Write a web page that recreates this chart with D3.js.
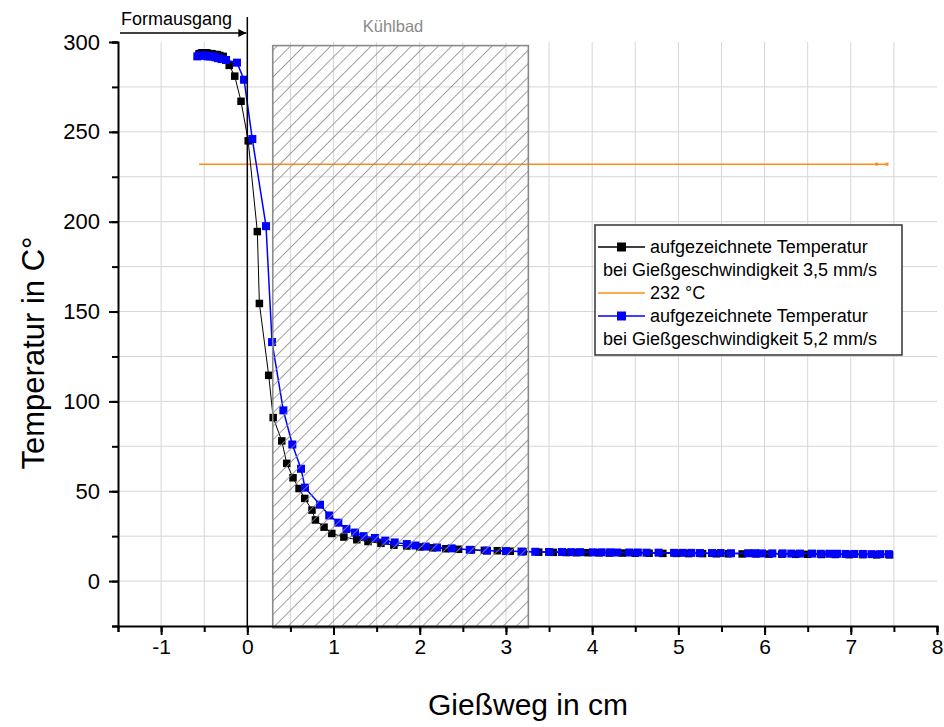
<!DOCTYPE html>
<html>
<head>
<meta charset="utf-8">
<script src="https://cdn.jsdelivr.net/npm/d3@7"></script>
<style>
  body { margin: 0; background: #fff; }
  svg { font-family: Arial, "Liberation Sans", sans-serif; }
</style>
</head>
<body>
<div id="chart"></div>
<script>
// Gießgeschwindigkeit 3,5 mm/s
const xBlack = [-0.56, -0.53, -0.50, -0.47, -0.44, -0.41, -0.38, -0.35, -0.32, -0.28, -0.21, -0.146, -0.073, 0.01,
  0.116, 0.14, 0.248, 0.30, 0.40, 0.457, 0.53, 0.60, 0.666, 0.75, 0.79, 0.89, 0.98, 1.12, 1.27, 1.4, 1.55,
  1.7, 1.85, 2.0, 2.15, 2.3, 2.45, 2.6, 2.75, 2.9, 3.05, 3.2, 3.38, 3.55, 3.7, 3.82, 3.95, 4.08, 4.2, 4.35,
  4.5, 4.66, 4.82, 4.98, 5.12, 5.28, 5.44, 5.58, 5.74, 5.9, 6.05, 6.2, 6.36, 6.5, 6.66, 6.82, 6.98, 7.14,
  7.3, 7.45];
const yBlack = [293.5, 294, 294, 294, 293.5, 293.5, 293, 293, 292.5, 292, 287, 281, 267, 245,
  194.5, 154.5, 114.5, 91, 78, 65.5, 57.5, 51.5, 46, 39.5, 34, 30, 26.5, 24.5, 23, 22, 21,
  20, 19.5, 19, 18.5, 18, 17.7, 17.4, 17.1, 16.9, 16.6, 16.4, 16.1, 16, 15.9, 15.8, 15.8, 15.7, 15.6, 15.6,
  15.5, 15.5, 15.4, 15.4, 15.3, 15.3, 15.2, 15.2, 15.1, 15.1, 15, 15, 14.9, 14.9, 14.8, 14.8, 14.7, 14.7,
  14.6, 14.6];

// Gießgeschwindigkeit 5,2 mm/s
const xBlue = [-0.58, -0.55, -0.52, -0.49, -0.46, -0.43, -0.40, -0.37, -0.34, -0.30, -0.247, -0.12, -0.038, 0.058,
  0.217, 0.287, 0.418, 0.522, 0.623, 0.669, 0.843, 0.95, 1.056, 1.15, 1.25, 1.35, 1.48, 1.6, 1.71, 1.85,
  1.95, 2.07, 2.2, 2.37, 2.58, 2.78, 3.0, 3.18, 3.34, 3.50, 3.65, 3.76, 3.86, 4.01, 4.11, 4.21, 4.29, 4.43,
  4.53, 4.63, 4.77, 4.95, 5.05, 5.15, 5.25, 5.39, 5.49, 5.61, 5.81, 5.89, 5.97, 6.09, 6.21, 6.31, 6.41,
  6.55, 6.65, 6.75, 6.84, 6.94, 7.04, 7.14, 7.24, 7.34, 7.44];
const yBlue = [292, 292.5, 292.5, 292.5, 292, 292, 292, 291.5, 291, 290.5, 290, 288.5, 279, 246,
  197.5, 133, 95, 76, 62.5, 52, 42.5, 36.5, 32.5, 29, 27, 25, 24, 22.5, 21.5, 20.6,
  19.8, 19.2, 18.7, 18.2, 17.4, 16.9, 16.7, 16.4, 16.3, 16.2, 16.2, 16.1, 16.1, 16, 16, 16, 15.9, 15.9,
  15.9, 15.8, 15.8, 15.7, 15.7, 15.7, 15.6, 15.6, 15.6, 15.5, 15.5, 15.5, 15.4, 15.4, 15.4, 15.3, 15.3,
  15.3, 15.2, 15.2, 15.2, 15.1, 15.1, 15.1, 15, 15, 15];

// 232 °C Linie
const xOrange = [-0.56, 7.3, 7.42];
const yOrange = [232, 232, 232];

const xTicks = [-1, 0, 1, 2, 3, 4, 5, 6, 7, 8];
const yTicks = [0, 50, 100, 150, 200, 250, 300];

const legendLabels = [
  "aufgezeichnete Temperatur", "bei Gießgeschwindigkeit 3,5 mm/s",
  "232 °C",
  "aufgezeichnete Temperatur", "bei Gießgeschwindigkeit 5,2 mm/s"
];

const width = 944, height = 727;
const plotLeft = 118, plotRight = 937, plotTop = 42, plotBottom = 626;

const svg = d3.select("#chart").append("svg")
  .attr("width", width)
  .attr("height", height);

const x = d3.scaleLinear().domain([-1.5, 8]).range([plotLeft, plotRight]);
const y = d3.scaleLinear().domain([-25, 300]).range([plotBottom, plotTop]);

// hatch pattern for Kühlbad
const defs = svg.append("defs");
defs.append("pattern")
  .attr("id", "hatch")
  .attr("patternUnits", "userSpaceOnUse")
  .attr("width", 9.5)
  .attr("height", 9.5)
  .attr("patternTransform", "rotate(45)")
  .append("line")
  .attr("x1", 0).attr("y1", 0).attr("x2", 0).attr("y2", 9.5)
  .attr("stroke", "#8a8a8a")
  .attr("stroke-width", 1.6);

defs.append("marker")
  .attr("id", "arrow")
  .attr("viewBox", "0 0 10 10")
  .attr("refX", 10).attr("refY", 5)
  .attr("markerWidth", 10).attr("markerHeight", 8)
  .attr("markerUnits", "userSpaceOnUse")
  .attr("orient", "auto")
  .append("path")
  .attr("d", "M0,0L10,5L0,10z")
  .attr("fill", "#000");

// grid
const grid = svg.append("g").attr("stroke", "#d6d6d6").attr("stroke-width", 1);
grid.selectAll("line.v")
  .data(d3.range(-1, 8, 0.5))
  .join("line")
  .attr("x1", d => x(d)).attr("x2", d => x(d))
  .attr("y1", y(300)).attr("y2", plotBottom);
grid.selectAll("line.h")
  .data(d3.range(0, 300, 25))
  .join("line")
  .attr("x1", plotLeft).attr("x2", plotRight)
  .attr("y1", d => y(d)).attr("y2", d => y(d));

// 232 °C line
const orangePts = d3.zip(xOrange, yOrange);
svg.append("path")
  .datum(orangePts)
  .attr("fill", "none")
  .attr("stroke", "#ff8c1a")
  .attr("stroke-width", 1.5)
  .attr("d", d3.line().x(d => x(d[0])).y(d => y(d[1])));
svg.append("g")
  .attr("fill", "#ff8c1a")
  .selectAll("rect")
  .data(orangePts.slice(1))
  .join("rect")
  .attr("x", d => x(d[0]) - 1.5)
  .attr("y", d => y(d[1]) - 1.5)
  .attr("width", 3).attr("height", 3);

// series
function series(xs, ys, color, lw, size) {
  const pts = d3.zip(xs, ys);
  svg.append("path")
    .datum(pts)
    .attr("fill", "none")
    .attr("stroke", color)
    .attr("stroke-width", lw)
    .attr("d", d3.line().x(d => x(d[0])).y(d => y(d[1])));
  svg.append("g")
    .attr("fill", color)
    .selectAll("rect")
    .data(pts)
    .join("rect")
    .attr("x", d => x(d[0]) - size / 2)
    .attr("y", d => y(d[1]) - size / 2)
    .attr("width", size)
    .attr("height", size);
}
series(xBlack, yBlack, "#000", 1, 7.5);
series(xBlue, yBlue, "#0000ff", 1.5, 8);

// Kühlbad
svg.append("rect")
  .attr("x", x(0.295)).attr("y", y(298))
  .attr("width", x(3.26) - x(0.295))
  .attr("height", y(-26) - y(298))
  .attr("fill", "url(#hatch)")
  .attr("stroke", "#8a8a8a")
  .attr("stroke-width", 1.6);
svg.append("text")
  .attr("x", 393)
  .attr("y", 32)
  .attr("text-anchor", "middle")
  .attr("fill", "#8a8a8a")
  .attr("font-size", 16.5)
  .text("Kühlbad");

// Formausgang
svg.append("line")
  .attr("x1", x(0)).attr("x2", x(0))
  .attr("y1", 17).attr("y2", plotBottom)
  .attr("stroke", "#000").attr("stroke-width", 1.5);
svg.append("line")
  .attr("x1", 120).attr("x2", x(0) - 1)
  .attr("y1", 33).attr("y2", 33)
  .attr("stroke", "#000").attr("stroke-width", 1.5)
  .attr("marker-end", "url(#arrow)");
svg.append("text")
  .attr("x", 121).attr("y", 25)
  .attr("font-size", 18)
  .text("Formausgang");

// axes
const fmt = d => String(d);
svg.append("g")
  .attr("transform", `translate(0,${plotBottom})`)
  .call(d3.axisBottom(x).tickValues(d3.range(-1.5, 8.01, 0.5)).tickSize(6).tickFormat(""))
  .call(g => g.select(".domain").attr("stroke-width", 2))
  .call(g => g.selectAll(".tick line").attr("stroke-width", 2));
svg.append("g")
  .attr("transform", `translate(0,${plotBottom})`)
  .call(d3.axisBottom(x).tickValues(xTicks).tickSize(9).tickPadding(4).tickFormat(fmt))
  .call(g => g.select(".domain").remove())
  .call(g => g.selectAll(".tick line").attr("stroke-width", 2))
  .call(g => g.selectAll("text").attr("font-size", 21).attr("font-family", "Arial, 'Liberation Sans', sans-serif"));

svg.append("g")
  .attr("transform", `translate(${plotLeft},0)`)
  .call(d3.axisLeft(y).tickValues(d3.range(-25, 300.1, 25)).tickSize(6).tickFormat(""))
  .call(g => g.select(".domain").attr("stroke-width", 2))
  .call(g => g.selectAll(".tick line").attr("stroke-width", 2));
svg.append("g")
  .attr("transform", `translate(${plotLeft},0)`)
  .call(d3.axisLeft(y).tickValues(yTicks).tickSize(9).tickPadding(9).tickFormat(fmt))
  .call(g => g.select(".domain").remove())
  .call(g => g.selectAll(".tick line").attr("stroke-width", 2))
  .call(g => g.selectAll("text").attr("font-size", 22).attr("font-family", "Arial, 'Liberation Sans', sans-serif"));

svg.append("text")
  .attr("transform", `translate(44,${(plotTop + plotBottom) / 2 + 19}) rotate(-90)`)
  .attr("text-anchor", "middle")
  .attr("font-size", 31)
  .text("Temperatur in C°");
svg.append("text")
  .attr("x", 528).attr("y", 715)
  .attr("text-anchor", "middle")
  .attr("font-size", 30)
  .text("Gießweg in cm");

// legend
const lg = svg.append("g").attr("transform", "translate(595,225)");
lg.append("rect")
  .attr("width", 307).attr("height", 130)
  .attr("fill", "#fff")
  .attr("stroke", "#333").attr("stroke-width", 1.5);
const rowY = [22, 45, 68, 91, 114];
const sym = [
  { row: 0, color: "#000", box: true },
  { row: 2, color: "#ff8c1a", box: false },
  { row: 3, color: "#0000ff", box: true }
];
sym.forEach(s => {
  lg.append("line")
    .attr("x1", 3).attr("x2", 50)
    .attr("y1", rowY[s.row]).attr("y2", rowY[s.row])
    .attr("stroke", s.color).attr("stroke-width", 1.5);
  if (s.box) {
    lg.append("rect")
      .attr("x", 22).attr("y", rowY[s.row] - 4.5)
      .attr("width", 9).attr("height", 9)
      .attr("fill", s.color);
  }
});
lg.selectAll("text.l")
  .data(legendLabels)
  .join("text")
  .attr("x", (d, i) => (i === 1 || i === 4) ? 8 : 55)
  .attr("y", (d, i) => rowY[i])
  .attr("dy", "0.35em")
  .attr("font-size", 18)
  .text(d => d);
</script>
</body>
</html>
